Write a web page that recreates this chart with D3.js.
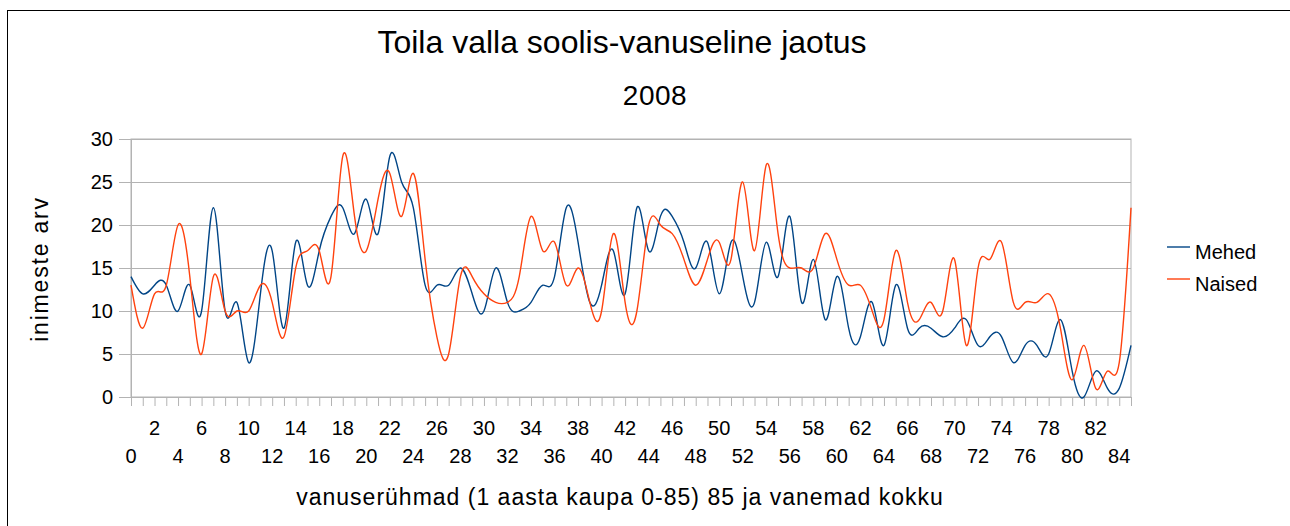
<!DOCTYPE html>
<html>
<head>
<meta charset="utf-8">
<script src="https://cdn.jsdelivr.net/npm/d3@7"></script>
<style>
  body { margin: 0; background: #fff; }
  svg text { font-family: "Liberation Sans", Arial, sans-serif; fill: #000; }
</style>
</head>
<body>
<div id="chart"></div>
<script>
// vanuserühmad 0..85 (85 = 85 ja vanemad)
const ages = d3.range(0, 86);
const mehed = [14, 12, 13, 13, 10, 13, 10, 22, 10, 11, 4, 12, 17, 8, 18, 13, 17, 21, 22, 19,
  23, 19, 28, 25, 22, 13, 13, 13, 15, 12, 10, 15, 11, 10, 11, 13, 14, 22, 18, 11,
  13, 17, 12, 22, 17, 21, 21, 18, 15, 18, 12, 18, 14, 11, 18, 14, 21, 11, 16, 9,
  14, 8, 7, 11, 6, 13, 8, 8, 8, 7, 8, 9, 6, 7, 7, 4, 6, 6, 5, 9,
  3, 0, 3, 1, 1, 6];
const naised = [13, 8, 12, 13, 20, 14, 5, 14, 10, 10, 10, 13, 11, 7, 15, 17, 17, 14, 28, 21,
  17, 23, 26, 21, 26, 16, 7, 5, 14, 14, 12, 11, 11, 14, 21, 17, 18, 13, 15, 11,
  10, 19, 11, 10, 20, 20, 19, 16, 13, 16, 18, 16, 25, 17, 27, 19, 15, 15, 15, 19,
  16, 13, 13, 10, 9, 17, 11, 9, 11, 10, 16, 6, 15, 16, 18, 11, 11, 11, 12, 8,
  2, 6, 1, 3, 4, 22];
const seriesNames = ["Mehed", "Naised"];
const colors = ["#004586", "#ff420e"];
const yTicks = [0, 5, 10, 15, 20, 25, 30];

const width = 1290, height = 526;
const plotLeft = 131, plotRight = 1131, plotTop = 139, plotBottom = 397;

const svg = d3.select("#chart").append("svg")
  .attr("width", width)
  .attr("height", height);

// outer frame
svg.append("rect")
  .attr("x", 7.5).attr("y", 10.5)
  .attr("width", 1300).attr("height", 600)
  .attr("fill", "none").attr("stroke", "#000").attr("stroke-width", 1);

const x = d3.scalePoint().domain(ages).range([plotLeft, plotRight]);
const y = d3.scaleLinear().domain([0, 30]).range([plotBottom, plotTop]);

// gridlines
svg.append("g")
  .attr("transform", `translate(${plotLeft},0)`)
  .call(d3.axisLeft(y).tickValues(yTicks).tickSize(-(plotRight - plotLeft)).tickFormat(""))
  .call(g => g.select(".domain").remove())
  .call(g => g.selectAll("line").attr("stroke", "#b3b3b3"));

// plot border
svg.append("rect")
  .attr("x", plotLeft).attr("y", plotTop)
  .attr("width", plotRight - plotLeft).attr("height", plotBottom - plotTop)
  .attr("fill", "none").attr("stroke", "#b3b3b3");

// y axis
const yAxis = svg.append("g")
  .attr("transform", `translate(${plotLeft},0)`)
  .call(d3.axisLeft(y).tickValues(yTicks).tickSize(12).tickPadding(6));
yAxis.select(".domain").attr("stroke", "#b3b3b3");
yAxis.selectAll("line").attr("stroke", "#b3b3b3");
yAxis.selectAll("text").attr("font-size", 20).attr("font-family", "Liberation Sans, Arial, sans-serif");

// x axis
const xAxis = svg.append("g")
  .attr("transform", `translate(0,${plotBottom})`)
  .call(d3.axisBottom(x).tickSize(9).tickFormat(""));
xAxis.select(".domain").attr("stroke", "#b3b3b3");
xAxis.selectAll("line").attr("stroke", "#b3b3b3");

// staggered labels
svg.append("g").selectAll("text")
  .data(ages.filter(d => d % 2 === 0))
  .enter().append("text")
  .attr("x", d => x(d))
  .attr("y", d => d % 4 === 2 ? 435 : 463)
  .attr("text-anchor", "middle")
  .attr("font-size", 20)
  .text(d => d);

// lines
const line = d3.line()
  .x((d, i) => x(ages[i]))
  .y(d => y(d))
  .curve(d3.curveNatural);

[mehed, naised].forEach((vals, k) => {
  svg.append("path")
    .datum(vals)
    .attr("fill", "none")
    .attr("stroke", colors[k])
    .attr("stroke-width", 1.4)
    .attr("d", line);
});

// titles
svg.append("text")
  .attr("x", 622).attr("y", 53)
  .attr("text-anchor", "middle")
  .attr("font-size", 32)
  .text("Toila valla soolis-vanuseline jaotus");

svg.append("text")
  .attr("x", 655).attr("y", 105)
  .attr("text-anchor", "middle")
  .attr("font-size", 28)
  .attr("letter-spacing", 0.5)
  .text("2008");

svg.append("text")
  .attr("x", 620).attr("y", 505)
  .attr("text-anchor", "middle")
  .attr("font-size", 23)
  .attr("letter-spacing", 1)
  .text("vanuserühmad (1 aasta kaupa 0-85) 85 ja vanemad kokku");

svg.append("text")
  .attr("transform", "translate(48,269) rotate(-90)")
  .attr("text-anchor", "middle")
  .attr("font-size", 23)
  .attr("letter-spacing", 1.8)
  .text("inimeste arv");

// legend
const legend = svg.append("g");
seriesNames.forEach((name, k) => {
  const ly = 247 + k * 32;
  legend.append("line")
    .attr("x1", 1167).attr("x2", 1190)
    .attr("y1", ly).attr("y2", ly)
    .attr("stroke", colors[k]).attr("stroke-width", 1.4);
  legend.append("text")
    .attr("x", 1195).attr("y", ly + 12)
    .attr("font-size", 20)
    .text(name);
});
</script>
</body>
</html>
